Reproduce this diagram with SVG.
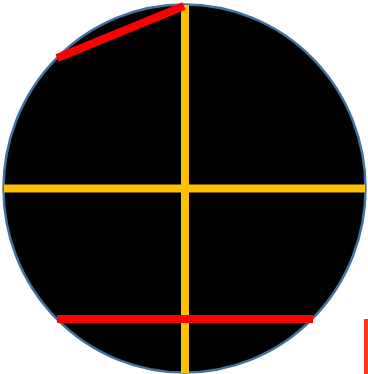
<svg xmlns="http://www.w3.org/2000/svg" width="368" height="374" viewBox="0 0 368 374">
<style>
.y{stroke:#FFC000;stroke-width:8;fill:none}
.r{stroke:#FF0000;stroke-width:8;fill:none}
</style>
<g id="circle"><ellipse cx="184.5" cy="188.5" rx="181" ry="184" fill="#000" stroke="#41719C" stroke-width="2.5"/></g>
<g id="connectors">
<line class="y" x1="185" y1="5" x2="185" y2="373"/>
<line class="y" x1="4" y1="188.5" x2="365" y2="188.5"/>
<line class="r" x1="57" y1="58" x2="184" y2="6" stroke-width="7"/>
<line class="r" x1="57" y1="319" x2="313" y2="319"/>
<line x1="366" y1="319" x2="366" y2="374" stroke="#FF3A1A" stroke-width="4"/>
</g>
</svg>
